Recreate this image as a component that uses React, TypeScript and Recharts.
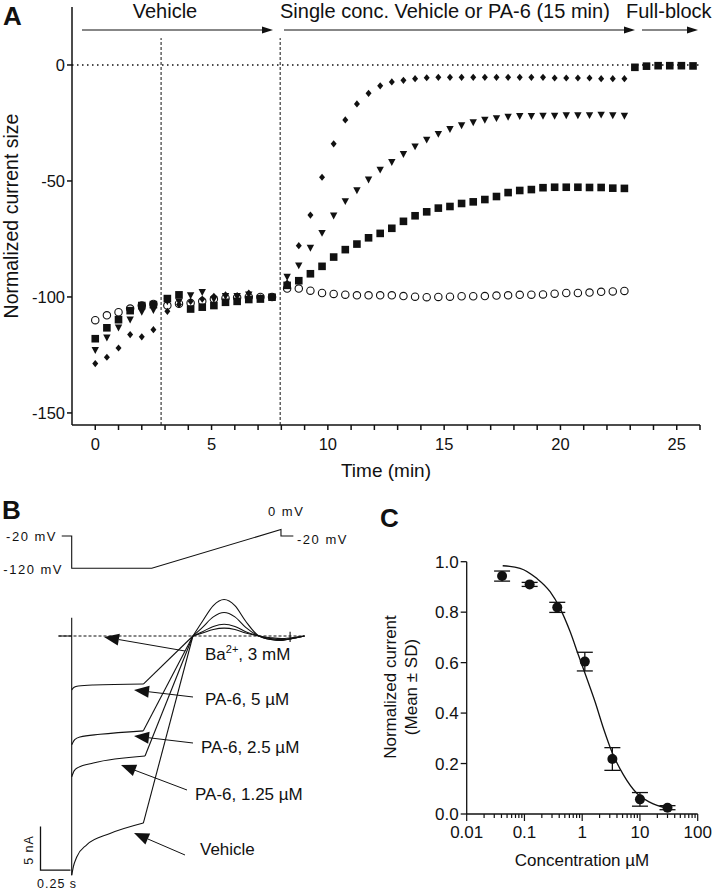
import React from 'react'
import {
  ScatterChart,
  Scatter,
  LineChart,
  Line,
  ComposedChart,
  XAxis,
  YAxis,
  ReferenceLine,
  ErrorBar,
} from 'recharts'

const FONT = '"Liberation Sans", Arial, Helvetica, sans-serif'
const INK = '#111'

// ---- Panel A: time course -------------------------------------------------
const minutes = [
  0, 0.5, 1, 1.5, 2, 2.5, 3.1, 3.6, 4.1, 4.6, 5.1, 5.6, 6.1, 6.6, 7.1, 7.6,
  8.25, 8.75, 9.25, 9.75, 10.25, 10.75, 11.25, 11.75, 12.25, 12.75, 13.25, 13.75, 14.25, 14.75,
  15.25, 15.75, 16.25, 16.75, 17.25, 17.75, 18.25, 18.75, 19.25, 19.75, 20.25, 20.75, 21.25,
  21.75, 22.25, 22.75,
]
// open circles
const vehicleSeries = [
  -110, -107.9, -106.6, -105, -103.7, -103, -103.7, -102.9, -102.6, -101.9, -100.9, -100.4, -100.2, -100, -100, -100,
  -96.4, -96.4, -97.3, -98.3, -98.7, -99, -99.3, -99.3, -99.3, -99.3, -99.6, -99.9, -100.1, -100,
  -99.9, -99.7, -99.7, -99.6, -99.4, -99.3, -99.1, -99, -98.9, -98.6, -98.3, -98.3, -98.1, -97.8, -97.6, -97.4,
]
// squares
const pa6LowSeries = [
  -118, -113.3, -109.8, -105.9, -103.7, -103.3, -100.7, -99.1, -105.2, -104.4, -103.7, -102.3, -101.9, -101.1, -100.9, -100.1,
  -95, -93, -90, -86.8, -82.8, -79.6, -77.2, -74.5, -72.6, -70.4, -67.4, -65, -63.3, -61.7,
  -61, -59.7, -59, -58, -56.7, -55, -54.1, -53.7, -52.9, -52.7, -52.7, -52.7, -52.8, -52.8, -53.1, -53.2,
]
// down triangles
const pa6MidSeries = [
  -123, -117.6, -113.3, -109.8, -106.5, -105.7, -102, -102, -99.4, -98, -101, -99.7, -99.7, -99, -100.4, -100.1,
  -91.4, -86.5, -78.9, -72.5, -65, -58.8, -54.1, -49.5, -45.2, -41.9, -38.5, -35.2, -32.3, -29.8,
  -27.7, -26.1, -24.8, -23.7, -23, -22.4, -22.1, -22.1, -22, -22, -21.8, -21.8, -21.7, -21.5, -21.8, -22,
]
// diamonds
const pa6HighSeries = [
  -128.7, -126, -122, -116.2, -117.2, -114.1, -106.2, -103.3, -101.9, -100.9, -99.7, -99.1, -99.4, -98.3, -100.4, -100.1,
  -94, -77.9, -64.7, -48.4, -34, -23.7, -16.8, -12.2, -9, -7.3, -6.6, -5.9, -5.5, -5.3,
  -5.3, -5.3, -5.3, -5.3, -5.3, -5.3, -5.3, -5.3, -5.3, -5.6, -5.6, -5.6, -5.6, -5.9, -5.9, -5.9,
]
const blockMinutes = [23.2, 23.7, 24.2, 24.7, 25.2, 25.7]
const blockSeries = [-1, -0.5, -0.3, -0.3, -0.3, -0.4]
const minuteTicks = [0, 1, 2, 3, 4, 5, 6, 7, 8, 9, 10, 11, 12, 13, 14, 15, 16, 17, 18, 19, 20, 21, 22, 23, 24, 25, 26]
const sizeTicks = [-150, -100, -50, 0]
const phaseMarks = [2.83, 7.95]

// ---- Panel B: protocol and current traces ----------------------------------
const protocolTime = [-0.083, 0, 0, 0.667, 1.744, 1.744, 1.847]
const protocolMv = [-20, -20, -120, -120, 0, -20, -20]

const holdTime = [-0.11, 0, 0, 0]
const holdNa = [0, 0, 2.1, -27.5]

const vehicleEarlyTime = [0, 0.014, 0.042, 0.125, 0.319, 0.597]
const vehicleEarlyNa = [-27.5, -26.5, -25.4, -24.0, -22.7, -21.5]
const lowEarlyTime = [0, 0.02, 0.055, 0.18, 0.611]
const lowEarlyNa = [-16.2, -15.5, -15.1, -14.6, -13.8]
const midEarlyTime = [0, 0.025, 0.069, 0.236, 0.597]
const midEarlyNa = [-12.5, -11.9, -11.6, -11.3, -10.9]
const highEarlyTime = [0, 0.02, 0.055, 0.18, 0.597]
const highEarlyNa = [-6.2, -5.9, -5.75, -5.63, -5.52]

const tailTime = [1.01, 1.09, 1.18, 1.27, 1.36, 1.45, 1.56, 1.66, 1.75, 1.83, 1.94]
const vehicleTailNa = [0, 1.7, 3.5, 4.2, 3.5, 1.7, 0, -0.4, -0.5, -0.3, 0]
const lowTailNa = [0, 1.0, 2.2, 2.7, 2.2, 1.0, 0, -0.4, -0.5, -0.3, 0]
const midTailNa = [0, 0.5, 1.1, 1.35, 1.1, 0.5, 0, -0.3, -0.4, -0.3, 0]
const highTailNa = [0, 0.35, 0.75, 0.9, 0.75, 0.35, 0, -0.2, -0.3, -0.2, 0]

const bariumTime = [-0.11, 1.94]
const bariumNa = [0, 0]
const stepTickTime = [1.82, 1.82]
const stepTickNa = [0.5, -0.7]
const scaleBarTime = [-0.26, -0.26, -0.01]
const scaleBarNa = [-21.9, -26.9, -26.9]

// ---- Panel C: concentration response --------------------------------------
const concentration = [0.041, 0.123, 0.37, 1.11, 3.33, 10, 30]
const meanCurrent = [0.943, 0.91, 0.819, 0.604, 0.218, 0.058, 0.025]
const sdCurrent = [0.02, 0.008, 0.02, 0.037, 0.045, 0.027, 0.008]
const fitConc = [0.042, 0.084, 0.163, 0.278, 0.414, 0.617, 0.859, 1.2, 1.67, 2.33, 3.26, 5.18, 8.83, 15, 29.2]
const fitCurrent = [0.984, 0.974, 0.934, 0.881, 0.815, 0.723, 0.63, 0.538, 0.445, 0.34, 0.247, 0.155, 0.082, 0.046, 0.023]
const concDecades = [0.01, 0.1, 1, 10]
const minorSteps = [1, 2, 3, 4, 5, 6, 7, 8, 9]
const concLabels = [0.01, 0.1, 1, 10, 100]
const fractionTicks = [0, 0.2, 0.4, 0.6, 0.8, 1.0]

const concTicks = [
  ...concDecades.flatMap((d) => minorSteps.map((m) => +(d * m).toPrecision(2))),
  100,
]

const pts = (xs: number[], ys: number[], xk = 't', yk = 'v') =>
  xs.map((x, i) => ({ [xk]: x, [yk]: ys[i] }))

// ---- markers ----------------------------------------------------------------
const OpenCircle = (p: any) => (
  <circle cx={p.cx} cy={p.cy} r={3.7} fill="#fff" stroke={INK} strokeWidth={1.1} />
)
const FilledSquare = (p: any) => (
  <rect x={p.cx - 3.8} y={p.cy - 3.8} width={7.6} height={7.6} fill={INK} />
)
const DownTriangle = (p: any) => (
  <path d={`M${p.cx - 3.7},${p.cy - 3.2}L${p.cx + 3.7},${p.cy - 3.2}L${p.cx},${p.cy + 3.7}Z`} fill={INK} />
)
const Diamond = (p: any) => (
  <path d={`M${p.cx},${p.cy - 3.6}L${p.cx + 3},${p.cy}L${p.cx},${p.cy + 3.6}L${p.cx - 3},${p.cy}Z`} fill={INK} />
)
const Dot = (p: any) => <circle cx={p.cx} cy={p.cy} r={5} fill={INK} />

function ConcTick(props: any) {
  const { x, y, payload } = props
  const major = concLabels.includes(payload.value)
  return (
    <g>
      <line x1={x} x2={x} y1={y} y2={y + (major ? 7 : 4)} stroke={INK} strokeWidth={1.2} />
      {major && (
        <text x={x} y={y + 12} dy="0.71em" textAnchor="middle" fontSize={17} fill={INK} fontFamily={FONT}>
          {String(payload.value)}
        </text>
      )}
    </g>
  )
}

function Arrow({ x1, y1, x2, y2, len, half, w = 1.2 }: any) {
  const a = Math.atan2(y2 - y1, x2 - x1)
  const bx = x2 - len * Math.cos(a)
  const by = y2 - len * Math.sin(a)
  const ox = -Math.sin(a) * half
  const oy = Math.cos(a) * half
  return (
    <g>
      <line x1={x1} y1={y1} x2={bx} y2={by} stroke={INK} strokeWidth={w} />
      <polygon points={`${x2},${y2} ${bx + ox},${by + oy} ${bx - ox},${by - oy}`} fill={INK} />
    </g>
  )
}

const traceStyle = { stroke: INK, strokeWidth: 1.1, dot: false, isAnimationActive: false } as const

export default function App() {
  const axisTick = { fill: INK, fontSize: 16.5, fontFamily: FONT }
  const axisStroke = { stroke: INK, strokeWidth: 1.5 }

  const traces = [
    { early: pts(vehicleEarlyTime, vehicleEarlyNa, 't', 'i'), tail: pts(tailTime, vehicleTailNa, 't', 'i') },
    { early: pts(lowEarlyTime, lowEarlyNa, 't', 'i'), tail: pts(tailTime, lowTailNa, 't', 'i') },
    { early: pts(midEarlyTime, midEarlyNa, 't', 'i'), tail: pts(tailTime, midTailNa, 't', 'i') },
    { early: pts(highEarlyTime, highEarlyNa, 't', 'i'), tail: pts(tailTime, highTailNa, 't', 'i') },
  ]

  return (
    <div
      style={{
        position: 'absolute',
        left: 0,
        top: 0,
        width: 714,
        height: 892,
        background: '#fff',
        fontFamily: FONT,
        overflow: 'hidden',
      }}
    >
      {/* A */}
      <div style={{ position: 'absolute', left: 0, top: 0 }}>
        <ScatterChart width={714} height={480} margin={{ top: 7, right: 14, left: 12, bottom: 15 }}>
          <XAxis
            type="number"
            dataKey="t"
            domain={[-1, 26]}
            ticks={minuteTicks}
            interval={0}
            tickFormatter={(v: number) => (v % 5 === 0 ? String(v) : '')}
            tick={axisTick}
            tickSize={5}
            tickMargin={8}
            axisLine={axisStroke}
            tickLine={axisStroke}
            height={40}
            allowDataOverflow
          />
          <YAxis
            type="number"
            dataKey="v"
            domain={[-155.2, 25]}
            ticks={sizeTicks}
            interval={0}
            tick={axisTick}
            tickSize={5}
            tickMargin={2}
            axisLine={axisStroke}
            tickLine={axisStroke}
            width={60}
            allowDataOverflow
          />
          <ReferenceLine y={0} stroke={INK} strokeWidth={1.4} strokeDasharray="1.5 3.5" />
          {phaseMarks.map((m) => (
            <ReferenceLine
              key={m}
              segment={[{ x: m, y: -155.2 }, { x: m, y: 11.6 }]}
              stroke={INK}
              strokeWidth={1}
              strokeDasharray="3 2"
            />
          ))}
          <Scatter data={pts(minutes, vehicleSeries)} shape={OpenCircle} isAnimationActive={false} />
          <Scatter data={pts(minutes, pa6MidSeries)} shape={DownTriangle} isAnimationActive={false} />
          <Scatter data={pts(minutes, pa6HighSeries)} shape={Diamond} isAnimationActive={false} />
          <Scatter data={pts(minutes, pa6LowSeries)} shape={FilledSquare} isAnimationActive={false} />
          <Scatter data={pts(blockMinutes, blockSeries)} shape={FilledSquare} isAnimationActive={false} />
        </ScatterChart>
      </div>

      {/* B */}
      <div style={{ position: 'absolute', left: 0, top: 490 }}>
        <LineChart width={330} height={400} margin={{ top: 0, right: 0, left: 0, bottom: 0 }}>
          <XAxis type="number" dataKey="t" domain={[-0.5975, 2.1525]} hide allowDataOverflow />
          <YAxis yAxisId="i" type="number" domain={[-29.195, 16.782]} hide allowDataOverflow />
          <YAxis yAxisId="v" type="number" domain={[-1115.1, 122.2]} hide allowDataOverflow />
          <Line yAxisId="v" data={pts(protocolTime, protocolMv, 't', 'mv')} dataKey="mv" type="linear" {...traceStyle} />
          <Line yAxisId="i" data={pts(bariumTime, bariumNa, 't', 'i')} dataKey="i" type="linear" {...traceStyle} strokeDasharray="3 2" />
          <Line yAxisId="i" data={pts(holdTime, holdNa, 't', 'i')} dataKey="i" type="linear" {...traceStyle} />
          {traces.map((tr, k) => (
            <React.Fragment key={k}>
              <Line yAxisId="i" data={tr.early} dataKey="i" type="monotone" {...traceStyle} />
              <Line
                yAxisId="i"
                data={[tr.early[tr.early.length - 1], tr.tail[0]]}
                dataKey="i"
                type="linear"
                {...traceStyle}
              />
              <Line yAxisId="i" data={tr.tail} dataKey="i" type="monotone" {...traceStyle} />
            </React.Fragment>
          ))}
          <Line yAxisId="i" data={pts(stepTickTime, stepTickNa, 't', 'i')} dataKey="i" type="linear" {...traceStyle} />
          <Line yAxisId="i" data={pts(scaleBarTime, scaleBarNa, 't', 'i')} dataKey="i" type="linear" {...traceStyle} strokeWidth={1.3} />
        </LineChart>
      </div>

      {/* C */}
      <div style={{ position: 'absolute', left: 360, top: 540 }}>
        <ComposedChart width={354} height={352} margin={{ top: 21.7, right: 16.3, left: 56.7, bottom: 48 }}>
          <XAxis
            type="number"
            dataKey="c"
            scale="log"
            domain={[0.01, 100]}
            ticks={concTicks}
            interval={0}
            tick={<ConcTick />}
            tickLine={false}
            tickSize={0}
            tickMargin={0}
            axisLine={{ stroke: INK, strokeWidth: 1.3 }}
            height={30}
            allowDataOverflow
          />
          <YAxis
            type="number"
            domain={[0, 1]}
            ticks={fractionTicks}
            interval={0}
            tickFormatter={(v: number) => v.toFixed(1)}
            tick={{ fill: INK, fontSize: 17, fontFamily: FONT }}
            tickSize={6}
            tickMargin={2}
            axisLine={{ stroke: INK, strokeWidth: 1.3 }}
            tickLine={{ stroke: INK, strokeWidth: 1.3 }}
            width={50}
            allowDataOverflow
          />
          <Line
            data={pts(fitConc, fitCurrent, 'c', 'y')}
            dataKey="y"
            type="monotone"
            stroke={INK}
            strokeWidth={1.3}
            dot={false}
            isAnimationActive={false}
          />
          <Scatter
            data={concentration.map((c, i) => ({ c, y: meanCurrent[i], sd: sdCurrent[i] }))}
            dataKey="y"
            shape={Dot}
            isAnimationActive={false}
          >
            <ErrorBar dataKey="sd" direction="y" width={8} stroke={INK} strokeWidth={1.3} />
          </Scatter>
        </ComposedChart>
      </div>

      {/* annotations */}
      <svg
        width={714}
        height={892}
        style={{ position: 'absolute', left: 0, top: 0, pointerEvents: 'none' }}
        fontFamily={FONT}
        fill={INK}
      >
        <text x={3} y={25} fontSize={26} fontWeight={700}>A</text>
        <text x={165} y={18} fontSize={20} textAnchor="middle">Vehicle</text>
        <text x={280} y={18} fontSize={20}>Single conc. Vehicle or PA-6 (15 min)</text>
        <text x={626} y={18} fontSize={20}>Full-block</text>
        <Arrow x1={82} y1={30} x2={273} y2={30} len={11} half={3.5} />
        <Arrow x1={284} y1={30} x2={635} y2={30} len={11} half={3.5} />
        <Arrow x1={642} y1={30} x2={698} y2={30} len={11} half={3.5} />
        <text x={18} y={216} fontSize={19.5} textAnchor="middle" transform="rotate(-90 18 216)">
          Normalized current size
        </text>
        <text x={386} y={477} fontSize={19} textAnchor="middle">Time (min)</text>

        <text x={2} y={519} fontSize={26} fontWeight={700}>B</text>
        <g fontSize={13} letterSpacing={1.5}>
          <text x={57} y={541} textAnchor="end">-20 mV</text>
          <text x={63} y={574} textAnchor="end">-120 mV</text>
          <text x={268} y={516}>0 mV</text>
          <text x={297} y={544}>-20 mV</text>
        </g>
        <g fontSize={17}>
          <text x={205} y={660}>
            Ba<tspan dy={-7} fontSize={11}>2+</tspan>
            <tspan dy={7}>, 3 mM</tspan>
          </text>
          <text x={205} y={705}>PA-6, 5 µM</text>
          <text x={201} y={753}>PA-6, 2.5 µM</text>
          <text x={195} y={800}>PA-6, 1.25 µM</text>
          <text x={200} y={855}>Vehicle</text>
        </g>
        <Arrow x1={185} y1={651} x2={104} y2={637} len={15} half={6} w={1} />
        <Arrow x1={193} y1={697} x2={134} y2={690} len={15} half={6} w={1} />
        <Arrow x1={193} y1={743} x2={134} y2={736} len={15} half={6} w={1} />
        <Arrow x1={187} y1={790} x2={121} y2={765} len={15} half={6} w={1} />
        <Arrow x1={185} y1={855} x2={134} y2={833} len={15} half={6} w={1} />
        <g fontSize={12.5} letterSpacing={1}>
          <text x={33} y={850} textAnchor="middle" transform="rotate(-90 33 850)">5 nA</text>
          <text x={37} y={888}>0.25 s</text>
        </g>

        <text x={380} y={527} fontSize={26} fontWeight={700}>C</text>
        <g fontSize={17} textAnchor="middle">
          <text x={396} y={687} transform="rotate(-90 396 687)">Normalized current</text>
          <text x={417} y={687} transform="rotate(-90 417 687)">(Mean ± SD)</text>
          <text x={582} y={866}>Concentration µM</text>
        </g>
      </svg>
    </div>
  )
}
